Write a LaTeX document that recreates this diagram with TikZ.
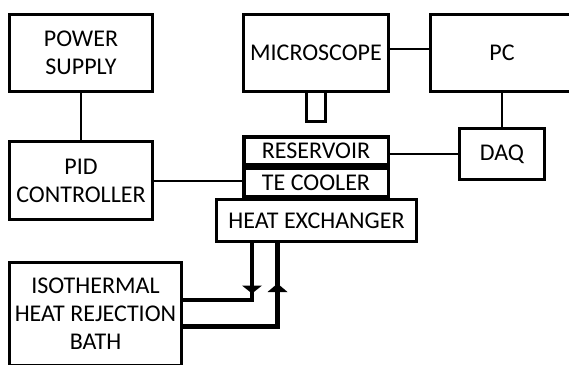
\documentclass[tikz,border=0pt]{standalone}
\usepackage{fontspec}
\setmainfont{Carlito}
\begin{document}
\begin{tikzpicture}[x=1bp,y=-1bp,
  every node/.style={font=\fontsize{24bp}{28bp}\selectfont, align=center, inner sep=0pt},
  box/.style={draw, line width=3bp},
  thin/.style={line width=2bp},
  pipe/.style={line width=4.5bp},
  tip/.style={fill=black}]
\useasboundingbox (0,0) rectangle (569,364);
\clip (0,0) rectangle (569,364);
\node[box, minimum width=143bp, minimum height=77bp] (ps) at (81,53) {POWER\\SUPPLY};
\node[box, minimum width=143bp, minimum height=78bp] (pid) at (81,180.5) {PID\\CONTROLLER};
\node[box, minimum width=19bp, minimum height=30bp] (tube) at (316,106.5) {};
\node[box, fill=white, minimum width=145bp, minimum height=77bp] (mic) at (316,53) {MICROSCOPE};
\node[box, minimum width=143bp, minimum height=77bp] (pc) at (502,53) {PC};
\node[box, minimum width=85bp, minimum height=51bp] (daq) at (502,154) {DAQ};
\node[box, line width=3.5bp, minimum width=144.5bp, minimum height=28bp] (res) at (316,150.75) {RESERVOIR};
\node[box, line width=3.5bp, minimum width=144.5bp, minimum height=28.5bp] (te) at (316,182.5) {TE COOLER};
\node[box, minimum width=200bp, minimum height=42bp] (hx) at (316.5,220.5) {HEAT EXCHANGER};
\node[box, minimum width=172bp, minimum height=103bp] (bath) at (95.5,313.5) {ISOTHERMAL\\HEAT REJECTION\\BATH};
% thin connectors
\draw[thin] (ps.south) -- (pid.north);
\draw[thin] (pid.east) -- (pid.east -| te.west);
\coordinate (mp) at (390,49);
\draw[thin] (mp) -- (mp -| pc.west);
\draw[thin] (daq.north) -- (daq.north |- pc.south);
\draw[thin] (daq.west) -- (daq.west -| res.east);
% pipes
\coordinate (pl) at (252,300);
\coordinate (pr) at (277.5,326.5);
\draw[pipe] (hx.south -| pl) -- (pl) -- (pl -| bath.east);
\draw[pipe] (bath.east |- pr) -- (pr) -- (pr |- hx.south);
\fill[tip] (242,285.5) -- (262,285.5) -- (252,293.5) -- cycle;
\fill[tip] (267.5,292) -- (287.5,292) -- (277.5,283.5) -- cycle;
\end{tikzpicture}
\end{document}
